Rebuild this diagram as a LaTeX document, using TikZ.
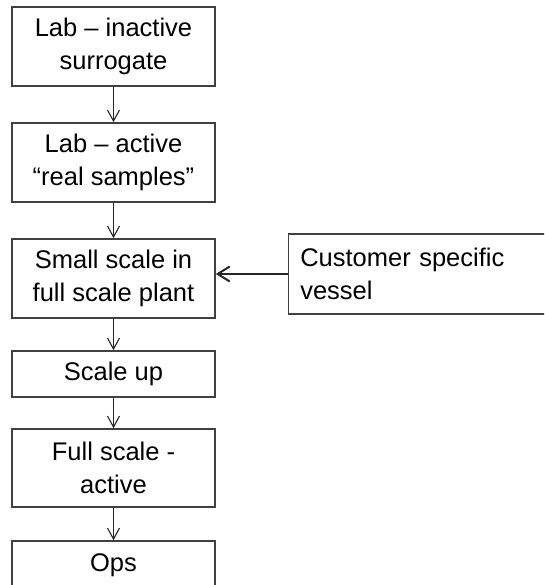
\documentclass[tikz,border=0pt]{standalone}
\usepackage{fontspec}
\setmainfont{Liberation Sans}
\usetikzlibrary{arrows.meta,positioning}
\tikzset{
  stage/.style={rectangle, draw=black!75, line width=1.6pt, fill=white,
                minimum width=203pt, align=center, inner sep=2pt,
                font=\fontsize{25.5}{33}\selectfont},
  feed/.style={rectangle, draw=black!75, line width=1.6pt, fill=white,
               minimum height=80pt, text width=240pt, inner xsep=12pt,
               align=left, font=\fontsize{25.5}{33}\selectfont},
  ar/.style={-{Straight Barb[length=11pt,width=12pt]}, line width=1.1pt, draw=black!85},
  arb/.style={-{Straight Barb[length=12pt,width=15pt]}, line width=2pt, draw=black!85},
}

\begin{document}
\begin{tikzpicture}[x=1pt,y=-1pt]

\useasboundingbox (0,0) rectangle (544,585);
\clip (0,0) rectangle (544,585);

% ============================ process column ============================
\node[stage, minimum height=79pt] (lab1) at (113.5,46.5)
  {Lab – inactive\\surrogate};
\node[stage, minimum height=79pt] (lab2) at (113.5,162.5)
  {Lab – active\\“real samples”};
\node[stage, minimum height=79pt] (small) at (113.5,278.5)
  {Small scale in\\full scale plant};
\node[stage, minimum height=46pt] (up) at (113.5,374)
  {Scale up};
\node[stage, minimum height=78pt] (full) at (113.5,468)
  {Full scale -\\active};
\node[stage, minimum height=48pt] (ops) at (113.5,565)
  {Ops};

% ============================ side input ================================
\node[feed, anchor=west] (cust) at (287.5,274)
  {Customer specific\\vessel};

% ============================ connectors ================================
\draw[ar] (lab1) -- (lab2);
\draw[ar] (lab2) -- (small);
\draw[ar] (small) -- (up);
\draw[ar] (up) -- (full);
\draw[ar] (full) -- (ops);
\draw[arb] (cust.west) -- (cust.west -| small.east);

\end{tikzpicture}
\end{document}
